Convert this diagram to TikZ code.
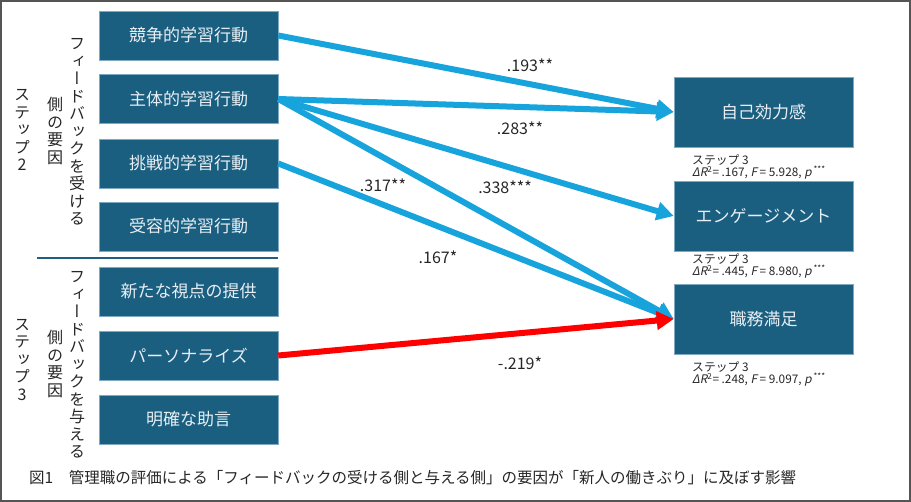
\documentclass[tikz,border=0pt]{standalone}
\usepackage{fontspec}
\setmainfont{Noto Sans CJK JP}
\newfontfamily\vfont[RawFeature=+vert]{Noto Sans CJK JP}
\newfontfamily\itf[FakeSlant=0.2]{Noto Sans CJK JP}
\usetikzlibrary{arrows.meta}
\definecolor{boxblue}{HTML}{1A5E80}
\definecolor{boxedge}{HTML}{7FA8C2}
\definecolor{boxtext}{HTML}{E8EFF4}
\definecolor{arrowblue}{HTML}{17A3DB}
\definecolor{arrowred}{HTML}{FF0000}
\definecolor{txt}{HTML}{262626}
\definecolor{frame}{HTML}{555555}
\definecolor{divline}{HTML}{1F5F86}
\tikzset{
 lbox/.style={fill=boxblue, draw=boxedge, line width=0.6pt, minimum width=179pt, minimum height=49pt, inner sep=0pt, text=boxtext, font=\fontsize{17}{20}\selectfont},
 rbox/.style={lbox, minimum height=70pt},
 bluearrow/.style={draw=arrowblue, line width=6pt, -{Triangle[length=17pt,width=18pt]}},
 redarrow/.style={bluearrow, draw=arrowred},
 coef/.style={font=\fontsize{16}{19}\selectfont, text=txt, inner sep=0pt},
 vtext/.style={align=center, font=\vfont\fontsize{16}{17.5}\selectfont, text=txt, inner sep=0pt},
 stat/.style={anchor=west, font=\fontsize{11.8}{13}\selectfont, inner sep=0pt, text=txt},
}
\begin{document}
\begin{tikzpicture}[x=1pt,y=-1pt]
\useasboundingbox (0,0) rectangle (911,502);
\draw[frame, line width=1.5pt] (1,1) rectangle (910,501);

% left boxes
\node[lbox] (b1) at (188.5,35.5) {競争的学習行動};
\node[lbox] (b2) at (188.5,99) {主体的学習行動};
\node[lbox] (b3) at (188.5,163.5) {挑戦的学習行動};
\node[lbox] (b4) at (188.5,226.5) {受容的学習行動};
\node[lbox] (b5) at (188.5,291.5) {新たな視点の提供};
\node[lbox] (b6) at (188.5,355.5) {パーソナライズ};
\node[lbox] (b7) at (188.5,419.5) {明確な助言};

% right boxes
\node[rbox] (r1) at (763.5,112) {自己効力感};
\node[rbox] (r2) at (763.5,216) {エンゲージメント};
\node[rbox] (r3) at (763.5,319) {職務満足};

% divider
\coordinate (d1) at (37,258);
\coordinate (d2) at (278,258);
\draw[divline, line width=1.2pt] (d1) -- (d2);

% vertical labels
\node[vtext] (s2) at (22,130) {ス\\テ\\ッ\\プ\\2};
\node[vtext] (s2b) at (55,131) {側\\の\\要\\因};
\node[vtext] (s2a) at (77,132) {フ\\ィ\\ー\\ド\\バ\\ッ\\ク\\を\\受\\け\\る};
\node[vtext] (s3) at (22,360) {ス\\テ\\ッ\\プ\\3};
\node[vtext] (s3b) at (55,364) {側\\の\\要\\因};
\node[vtext] (s3a) at (77,365) {フ\\ィ\\ー\\ド\\バ\\ッ\\ク\\を\\与\\え\\る};

% arrows
\draw[bluearrow] (b1.east) -- (r1.west);
\draw[bluearrow] (b2.east) -- (r1.west);
\draw[bluearrow] (b2.east) -- (r2.west);
\draw[bluearrow] (b2.east) -- (r3.west);
\draw[bluearrow] (b3.east) -- (r3.west);
\draw[redarrow] (b6.east) -- (r3.west);

% coefficients
\node[coef] (c1) at (530,65) {.193**};
\node[coef] (c2) at (520,128) {.283**};
\node[coef] (c3) at (383,185) {.317**};
\node[coef] (c4) at (505,187) {.338***};
\node[coef] (c5) at (438,257) {.167*};
\node[coef] (c6) at (520,363) {-.219*};

% stats
\node[stat] (t1a) at (692,160) {ステップ 3};
\node[stat] (t1b) at (692,172.5) {{\itf ΔR}\textsuperscript{2}= .167, {\itf F} = 5.928, {\itf p}\,\textsuperscript{***}};
\node[stat] (t2a) at (692,259) {ステップ 3};
\node[stat] (t2b) at (692,271.5) {{\itf ΔR}\textsuperscript{2}= .445, {\itf F} = 8.980, {\itf p}\,\textsuperscript{***}};
\node[stat] (t3a) at (692,367) {ステップ 3};
\node[stat] (t3b) at (692,379.5) {{\itf ΔR}\textsuperscript{2}= .248, {\itf F} = 9.097, {\itf p}\,\textsuperscript{***}};

% caption
\node[anchor=west, inner sep=0pt, text=txt, font=\fontsize{15.5}{18}\selectfont] (cap) at (29,478) {図1　管理職の評価による「フィードバックの受ける側と与える側」の要因が「新人の働きぶり」に及ぼす影響};
\end{tikzpicture}
\end{document}
